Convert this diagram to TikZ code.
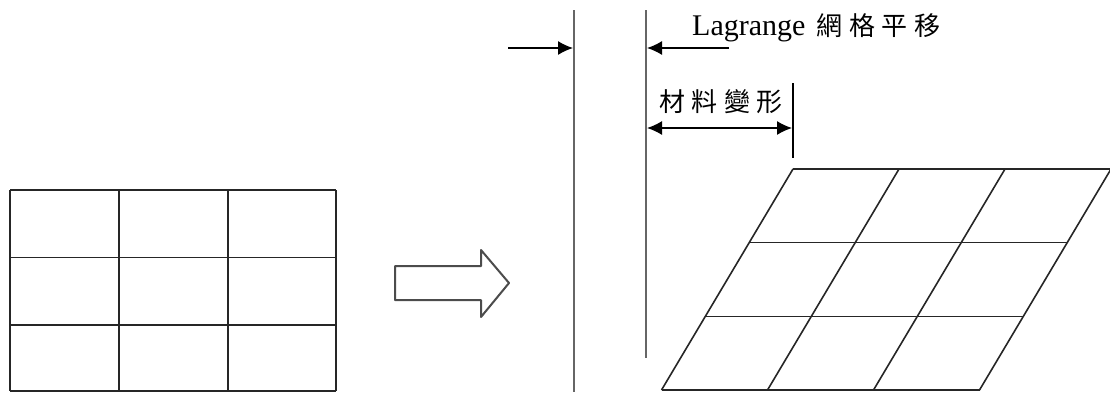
\documentclass[tikz,border=0pt]{standalone}
\usepackage{fontspec}
\setmainfont{Liberation Serif}
\newfontfamily\cjk[LetterSpace=25]{Noto Sans CJK TC}
\usetikzlibrary{arrows.meta}
\tikzset{
  gridline/.style={draw=black!85, line width=1.6pt},
  wall/.style={draw=black!60, line width=2pt},
  pointer/.style={draw=black, line width=1.4pt, -{Latex[length=15pt,width=14pt]}},
  twoway/.style={draw=black, line width=1.4pt, {Latex[length=15pt,width=14pt]}-{Latex[length=15pt,width=14pt]}},
  tick/.style={draw=black, line width=1.4pt},
  blockarrow/.style={draw=black!70, line width=2pt, line join=round, fill=white},
  label/.style={inner sep=0pt, anchor=base west}
}
\begin{document}
\begin{tikzpicture}[x=1pt, y=-1pt]
\useasboundingbox (0,0) rectangle (1110,392);

% undeformed 3x3 mesh
\foreach \x in {10,119,228,336}
  \draw[gridline] (\x,190) -- (\x,391);
\foreach \y in {190,257.5,325,391}
  \draw[gridline] (10,\y) -- (336,\y);

% hollow block arrow
\draw[blockarrow] (395,266) -- (481,266) -- (481,250) -- (509,283)
  -- (481,317) -- (481,300) -- (395,300) -- cycle;

% reference walls
\coordinate (w1top) at (574,10);
\coordinate (w1bot) at (574,392);
\coordinate (w2top) at (646,10);
\coordinate (w2bot) at (646,358);
\draw[wall] (w1top) -- (w1bot);
\draw[wall] (w2top) -- (w2bot);

% translation pointers
\coordinate (p1start) at (508,48);
\coordinate (p1end) at (573,48);
\coordinate (p2start) at (729,48);
\coordinate (p2end) at (647,48);
\draw[pointer] (p1start) -- (p1end);
\draw[pointer] (p2start) -- (p2end);

\node[label] (lagr) at (692,35)
  {\fontsize{30}{30}\selectfont Lagrange\hspace{4pt} {\cjk\fontsize{26}{26}\selectfont 網格平移}};

% deformation extent
\coordinate (tktop) at (793,83);
\coordinate (tkbot) at (793,158);
\draw[tick] (tktop) -- (tkbot);
\coordinate (dleft) at (647,128);
\coordinate (dright) at (792,128);
\draw[twoway] (dleft) -- (dright);

\node[label] (deform) at (659,111)
  {\cjk\fontsize{26}{26}\selectfont 材料變形};

% sheared 3x3 mesh
\begin{scope}[shift={(793,169)}]
  \foreach \i in {0,1,2,3}
    \draw[gridline] (\i*106,0) -- ({\i*106-131.5},221);
  \foreach \j in {0,1,2,3}
    \draw[gridline] ({-43.83*\j},{73.67*\j}) -- ({318-43.83*\j},{73.67*\j});
\end{scope}
\end{tikzpicture}
\end{document}
